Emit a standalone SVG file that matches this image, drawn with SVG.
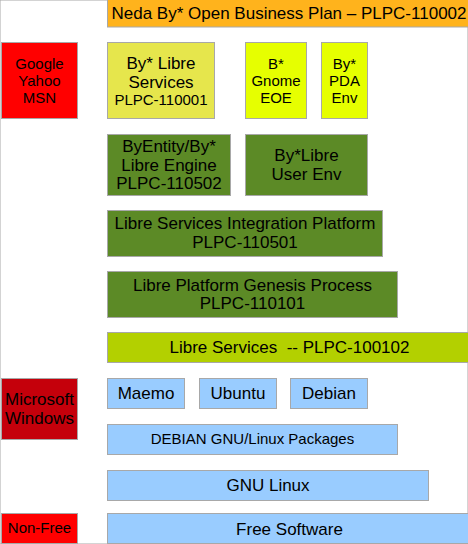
<svg xmlns="http://www.w3.org/2000/svg" width="468" height="544" viewBox="0 0 468 544">
<style>
rect{stroke:#a8a8a8;stroke-width:1}
text{font-family:"Liberation Sans",Arial,sans-serif;font-size:17px;fill:#000;text-anchor:middle;white-space:pre}
.s{font-size:15px}
.orange{fill:#ffb31c}
.red{fill:#ff0000}
.darkred{fill:#c5000b}
.yel{fill:#e6e64c}
.lime{fill:#e6ff00}
.green{fill:#5c8a26}
.ygreen{fill:#b3d000}
.blue{fill:#99ccff}
</style>
<rect width="468" height="544" fill="#fff" stroke="none"/>
<g id="plan"><rect class="orange" x="107.5" y="-1" width="366" height="28"/><text x="289" y="19">Neda By* Open Business Plan – PLPC-110002</text></g>
<g id="google"><rect class="red" x="1.5" y="42.5" width="76" height="76"/><text class="s" x="39.5" y="69">Google</text><text class="s" x="39.5" y="86">Yahoo</text><text class="s" x="39.5" y="103">MSN</text></g>
<g id="libre-services"><rect class="yel" x="107.5" y="42.5" width="107" height="76"/><text x="161" y="69">By* Libre</text><text x="161" y="88">Services</text><text class="s" x="161" y="105">PLPC-110001</text></g>
<g id="gnome"><rect class="lime" x="245.5" y="42.5" width="61" height="76"/><text class="s" x="276" y="69">B*</text><text class="s" x="276" y="86">Gnome</text><text class="s" x="276" y="103">EOE</text></g>
<g id="pda"><rect class="lime" x="321.5" y="42.5" width="46" height="76"/><text class="s" x="344.5" y="69">By*</text><text class="s" x="344.5" y="86">PDA</text><text class="s" x="344.5" y="103">Env</text></g>
<g id="engine"><rect class="green" x="107.5" y="134.5" width="123" height="61"/><text x="169" y="152">ByEntity/By*</text><text x="169" y="171">Libre Engine</text><text x="169" y="189">PLPC-110502</text></g>
<g id="user-env"><rect class="green" x="245.5" y="134.5" width="122" height="61"/><text x="306.5" y="161">By*Libre</text><text x="306.5" y="180">User Env</text></g>
<g id="lsip"><rect class="green" x="107.5" y="210.5" width="275" height="46"/><text x="245" y="229">Libre Services Integration Platform</text><text x="245" y="248">PLPC-110501</text></g>
<g id="lpgp"><rect class="green" x="107.5" y="271.5" width="290" height="46"/><text x="252.5" y="291">Libre Platform Genesis Process</text><text x="252.5" y="309">PLPC-110101</text></g>
<g id="libre-bar"><rect class="ygreen" x="107.5" y="332.5" width="366" height="30"/><text x="289.5" y="353">Libre Services  -- PLPC-100102</text></g>
<g id="windows"><rect class="darkred" x="1.5" y="378.5" width="76" height="61"/><text x="39.5" y="405">Microsoft</text><text x="39.5" y="424">Windows</text></g>
<g id="maemo"><rect class="blue" x="107.5" y="378.5" width="77" height="30"/><text x="146" y="399">Maemo</text></g>
<g id="ubuntu"><rect class="blue" x="199.5" y="378.5" width="77" height="30"/><text x="238" y="399">Ubuntu</text></g>
<g id="debian"><rect class="blue" x="290.5" y="378.5" width="77" height="30"/><text x="329" y="399">Debian</text></g>
<g id="packages"><rect class="blue" x="107.5" y="424.5" width="290" height="30"/><text class="s" x="252.5" y="444">DEBIAN GNU/Linux Packages</text></g>
<g id="gnu-linux"><rect class="blue" x="107.5" y="470.5" width="321" height="30"/><text x="268" y="491">GNU Linux</text></g>
<g id="non-free"><rect class="red" x="1.5" y="513.5" width="76" height="30"/><text class="s" x="39.5" y="533">Non-Free</text></g>
<g id="free-software"><rect class="blue" x="107.5" y="513.5" width="366" height="30"/><text x="289.5" y="535">Free Software</text></g>
<g id="connectors"/>
</svg>
